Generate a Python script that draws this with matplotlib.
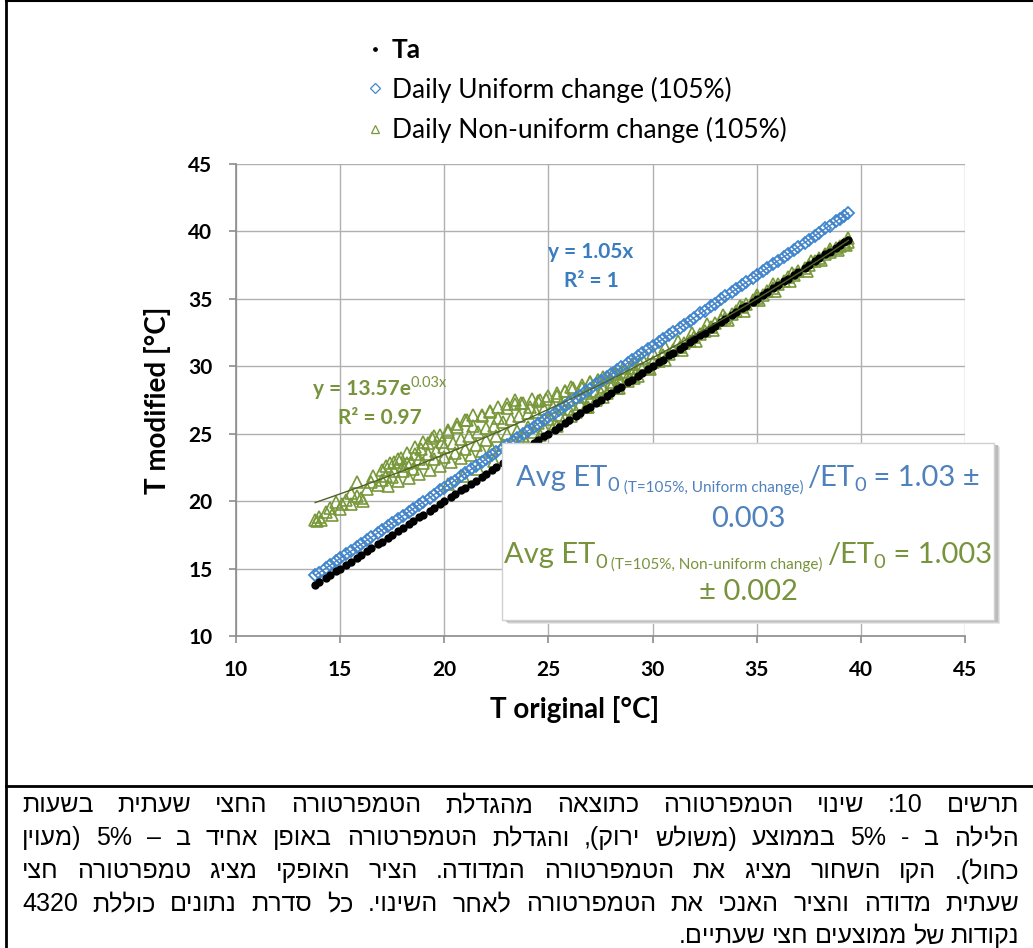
import re
import numpy as np
import matplotlib
matplotlib.use('Agg')
import matplotlib.pyplot as plt
from matplotlib.patches import Rectangle
from matplotlib.lines import Line2D

plt.rcParams['font.family'] = ['Lato', 'DejaVu Sans']

W, H = 1033, 948

# ---- data ----
t_orig = [13.8, 14.0, 14.3, 14.5, 14.8, 15.0, 15.3, 15.5, 15.8, 16.0, 16.3, 16.5, 16.8, 17.0,
          17.3, 17.5, 17.8, 18.0, 18.3, 18.5, 18.8, 19.0, 19.3, 19.5, 19.8, 20.0, 20.3, 20.5,
          20.8, 21.0, 21.3, 21.5, 21.8, 22.0, 22.3, 22.5, 22.8, 23.0, 23.3, 23.5, 23.8, 24.0,
          24.3, 24.5, 24.8, 25.0, 25.3, 25.5, 25.8, 26.0, 26.3, 26.5, 26.8, 27.0, 27.3, 27.5,
          27.8, 28.0, 28.3, 28.5, 28.8, 29.0, 29.3, 29.5, 29.8, 30.0, 30.3, 30.5, 30.8, 31.0,
          31.3, 31.5, 31.8, 32.0, 32.3, 32.5, 32.8, 33.0, 33.3, 33.5, 33.8, 34.0, 34.3, 34.5,
          34.8, 35.0, 35.3, 35.5, 35.8, 36.0, 36.3, 36.5, 36.8, 37.0, 37.3, 37.5, 37.8, 38.0,
          38.3, 38.5, 38.8, 39.0, 39.2, 39.4]

# Ta is the measured temperature itself
ta = t_orig

uniform = [14.49, 14.70, 15.02, 15.23, 15.54, 15.75, 16.07, 16.28, 16.59, 16.80, 17.12, 17.33,
           17.64, 17.85, 18.17, 18.38, 18.69, 18.90, 19.22, 19.43, 19.74, 19.95, 20.27, 20.48,
           20.79, 21.00, 21.32, 21.53, 21.84, 22.05, 22.37, 22.58, 22.89, 23.10, 23.42, 23.63,
           23.94, 24.15, 24.47, 24.68, 24.99, 25.20, 25.52, 25.73, 26.04, 26.25, 26.57, 26.78,
           27.09, 27.30, 27.62, 27.83, 28.14, 28.35, 28.67, 28.88, 29.19, 29.40, 29.72, 29.93,
           30.24, 30.45, 30.77, 30.98, 31.29, 31.50, 31.82, 32.03, 32.34, 32.55, 32.87, 33.08,
           33.39, 33.60, 33.92, 34.13, 34.44, 34.65, 34.97, 35.18, 35.49, 35.70, 36.02, 36.23,
           36.54, 36.75, 37.07, 37.28, 37.59, 37.80, 38.12, 38.33, 38.64, 38.85, 39.17, 39.38,
           39.69, 39.90, 40.22, 40.43, 40.74, 40.95, 41.16, 41.37]

nonuni_x = t_orig + [
    20.2, 20.9, 21.6, 22.4, 23.1, 23.9, 24.6, 25.4, 26.1, 26.9, 27.6, 28.4, 29.1, 29.9,
    30.6, 31.4, 32.1, 32.9, 33.6, 34.4, 35.1, 35.9, 36.6, 37.4, 38.1, 38.9, 39.3,
    15.8, 15.5, 16.6, 17.2, 17.6, 17.9, 18.2, 18.6, 18.9, 19.2, 19.5, 19.9, 20.2, 20.6,
    21.1, 21.4, 21.8, 22.2, 22.6, 23.0, 23.4, 23.7, 24.1, 24.5, 24.9, 25.4, 25.8, 26.1,
    26.6, 27.0, 27.4, 27.6, 28.1, 28.6, 29.0, 29.5, 30.0, 30.6, 31.2, 31.9, 32.6, 33.4,
    34.2, 35.0, 35.8, 36.7, 37.6, 38.5, 39.4,
    13.9, 14.1, 14.6, 15.1, 16.1,
    17.0, 17.4, 17.8, 18.2, 18.6, 19.0, 19.4, 19.8, 20.2, 20.6, 21.0, 21.4, 21.8, 22.2,
    22.6, 23.0, 23.4, 23.8, 24.2, 24.6, 25.0, 25.4, 25.8, 26.2, 26.6, 27.0, 27.4, 27.8,
    28.2, 28.6, 29.0, 29.4,
    17.2, 17.6, 18.0, 18.4, 18.8, 19.2, 19.6, 20.0, 20.4, 20.8, 21.2, 21.6, 22.0, 22.4,
    22.8, 23.2, 23.6, 24.0, 24.4, 24.8, 25.2, 25.6, 26.0, 26.4, 26.8, 27.2, 27.6, 28.0,
    28.4, 28.8, 29.2]
nonuni_y = [
    18.6, 18.8, 19.2, 19.5, 19.9, 19.4, 20.1, 19.8, 20.4, 20.2, 20.9, 21.4, 21.2, 21.6,
    21.1, 21.8, 21.5, 22.2, 21.7, 22.4, 22.0, 22.8, 22.3, 23.1, 22.6, 23.3, 22.9, 23.6,
    23.2, 23.9, 23.4, 24.2, 23.7, 24.5, 23.9, 24.8, 24.2, 25.0, 24.5, 25.2, 24.8, 25.5,
    25.1, 25.8, 25.4, 26.1, 25.7, 26.4, 26.2, 26.8, 26.6, 27.2, 27.0, 27.6, 27.5, 28.0,
    28.0, 28.5, 28.4, 28.9, 28.9, 29.4, 29.3, 29.8, 29.9, 30.3, 30.4, 30.8, 30.9, 31.2,
    31.4, 31.7, 31.9, 32.2, 32.4, 32.6, 32.9, 33.2, 33.4, 33.6, 33.9, 34.1, 34.4, 34.6,
    34.9, 35.1, 35.3, 35.6, 35.8, 36.1, 36.3, 36.6, 36.8, 37.1, 37.3, 37.5, 37.8, 38.0,
    38.3, 38.5, 38.8, 38.9, 39.1, 39.2,
    21.3, 21.9, 22.4, 23.0, 23.5, 24.3, 24.9, 25.6, 26.3, 27.0, 27.7, 28.4, 29.1, 29.8,
    30.5, 31.2, 31.9, 32.7, 33.4, 34.1, 34.9, 35.6, 36.3, 37.1, 37.9, 38.6, 39.0,
    21.4, 20.6, 21.9, 22.6, 22.9, 23.2, 22.8, 23.5, 23.9, 24.3, 24.8, 24.4, 25.1, 25.5,
    26.0, 25.6, 26.3, 26.6, 26.2, 26.9, 27.2, 27.3, 27.0, 27.4, 27.6, 27.8, 28.2, 28.5,
    28.4, 28.8, 29.0, 29.2, 29.5, 29.9, 30.2, 30.6, 31.0, 31.4, 31.9, 32.5, 33.1, 33.8,
    34.5, 35.3, 36.1, 36.9, 37.8, 38.7, 39.5,
    18.5, 18.6, 19.0, 19.8, 20.0,
    22.3, 22.8, 23.1, 23.6, 24.0, 24.4, 24.7, 24.9, 25.3, 25.7, 26.0, 26.4, 26.4, 26.7,
    27.0, 27.2, 27.5, 27.3, 27.6, 27.5, 27.8, 28.0, 28.2, 28.4, 28.6, 28.8, 29.0, 29.2,
    29.4, 29.6, 29.9, 30.2,
    21.9, 22.2, 22.6, 22.9, 23.1, 23.5, 23.7, 24.0, 24.3, 24.6, 24.8, 25.1, 25.4, 25.6,
    25.9, 26.1, 26.3, 26.5, 26.6, 26.8, 27.0, 27.2, 27.5, 27.7, 28.0, 28.2, 28.5, 28.8,
    29.0, 29.3, 29.6]

ticks = [10, 15, 20, 25, 30, 35, 40, 45]
labels = ['Ta', 'Daily Uniform change (105%)', 'Daily Non-uniform change (105%)']

caption = [
    'תרשים 10: שינוי הטמפרטורה כתוצאה מהגדלת הטמפרטורה החצי שעתית בשעות',
    'הלילה ב - 5% בממוצע (משולש ירוק), והגדלת הטמפרטורה באופן אחיד ב – 5% (מעוין',
    'כחול). הקו השחור מציג את הטמפרטורה המדודה. הציר האופקי מציג טמפרטורה חצי',
    'שעתית מדודה והציר האנכי את הטמפרטורה לאחר השינוי. כל סדרת נתונים כוללת 4320',
    'נקודות של ממוצעים חצי שעתיים.',
]

BLUE = '#3F86D0'
GREEN = '#78983A'
BLUE_TXT = '#4F81BD'
GREEN_TXT = '#77933C'


def fx(px):
    return px / W


def fy(py):
    return 1 - py / H


def to_visual(s):
    # simple right-to-left ordering for the Hebrew caption
    r = s[::-1]
    r = re.sub(r'%?[0-9]+', lambda m: m.group(0)[::-1], r)
    return r.translate(str.maketrans('()', ')('))


fig = plt.figure(figsize=(W / 100, H / 100), dpi=100)
ax = fig.add_axes([fx(236), fy(636), fx(965) - fx(236), fy(164) - fy(636)])

ax.plot(nonuni_x, nonuni_y, '^', ms=8.5, mfc='none', mec=GREEN, mew=1.2, label=labels[2], zorder=3)
ax.plot(t_orig, uniform, 'D', ms=6, mfc='none', mec=BLUE, mew=1.3, label=labels[1], zorder=4)
ax.plot(t_orig, ta, 'o', ms=6, color='black', mew=0, label=labels[0], zorder=5)

# trend lines fitted from the series
xs = np.array(t_orig)
k = np.sum(xs * np.array(uniform)) / np.sum(xs * xs)
ax.plot(xs, k * xs, color='#4F81BD', lw=1, zorder=6)
b, lna = np.polyfit(np.array(nonuni_x), np.log(np.array(nonuni_y)), 1)
xe = np.linspace(min(nonuni_x), max(nonuni_x), 100)
ax.plot(xe, np.exp(lna) * np.exp(b * xe), color='#4F6228', lw=1, zorder=6)

ax.set_xlim(10, 45)
ax.set_ylim(10, 45)
ax.set_xticks(ticks)
ax.set_yticks(ticks)
ax.grid(True, color='#B0B0B0', lw=1)
ax.set_axisbelow(True)
for s in ['top', 'right']:
    ax.spines[s].set_visible(False)
for s in ['left', 'bottom']:
    ax.spines[s].set_color('#8C8C8C')
    ax.spines[s].set_linewidth(1.2)
ax.tick_params(length=5, color='#8C8C8C', width=1.2, labelsize=15, pad=12)
for t in ax.get_xticklabels() + ax.get_yticklabels():
    t.set_fontweight('bold')

ax.set_xlabel('T original [°C]', fontsize=20, fontweight='bold', labelpad=12, x=0.465)
ax.set_ylabel('T modified [°C]', fontsize=20, fontweight='bold', labelpad=12)

# legend above the plot
h = ax.get_legend_handles_labels()[0]
leg = ax.legend([h[2], h[1], h[0]], labels, loc='upper left',
                bbox_to_anchor=(fx(367), fy(38)), bbox_transform=fig.transFigure,
                frameon=False, fontsize=19, handlelength=0.6, handletextpad=0.35,
                labelspacing=0.55, borderpad=0, borderaxespad=0)
sizes = [2.5, 5, 6]
for lh, ms in zip(leg.legend_handles, sizes):
    lh.set_markersize(ms)
    lh.set_markeredgewidth(0.9)
leg.get_texts()[0].set_fontweight('bold')

fig.canvas.draw()
rend = fig.canvas.get_renderer()


def pieces(items, cx, base_py, z=11):
    # items: (text, size, dy_px, color, weight); centred at cx pixels
    objs = []
    for txt, size, dy, col, wt in items:
        t = fig.text(0, 0, txt, fontsize=size, color=col, fontweight=wt, va='baseline',
                     ha='left', zorder=z)
        objs.append((t, dy))
    widths = [t.get_window_extent(rend).width for t, _ in objs]
    x = cx - sum(widths) / 2
    for (t, dy), w in zip(objs, widths):
        t.set_position((fx(x), fy(base_py + dy)))
        x += w


# trend equations
fig.text(fx(591), fy(252), 'y = 1.05x', fontsize=15, fontweight='bold', color='#3A7CC0',
         ha='center', va='center')
fig.text(fx(591), fy(281), 'R² = 1', fontsize=15, fontweight='bold', color='#3A7CC0',
         ha='center', va='center')
pieces([('y = 13.57e', 15, 0, GREEN_TXT, 'bold'), ('0.03x', 10.5, -8, GREEN_TXT, 'normal')],
       380, 395)
fig.text(fx(380), fy(418), 'R² = 0.97', fontsize=15, fontweight='bold', color=GREEN_TXT,
         ha='center', va='center')

# result box with soft shadow
bx0, by0, bx1, by1 = 504, 443, 996, 620
for i, c in enumerate(['#E6E6E6', '#D2D2D2', '#BBBBBB']):
    o = 4 - i
    fig.patches.append(Rectangle((fx(bx0 + o), fy(by1 + o)), fx(bx1 - bx0), fy(0) - fy(by1 - by0),
                                 transform=fig.transFigure, facecolor=c, edgecolor='none',
                                 zorder=9))
fig.patches.append(Rectangle((fx(bx0 - 2), fy(by1)), fx(bx1 - bx0), fy(0) - fy(by1 - by0),
                             transform=fig.transFigure, facecolor='white',
                             edgecolor='#D0D0D0', lw=1, zorder=10))

cx = (bx0 + bx1) / 2 - 2
pieces([('Avg ET', 21, 0, BLUE_TXT, 'normal'), ('0', 14.5, 5, BLUE_TXT, 'normal'),
        (' (T=105%, Uniform change) ', 11, 6, BLUE_TXT, 'normal'),
        ('/ET', 21, 0, BLUE_TXT, 'normal'), ('0', 14.5, 5, BLUE_TXT, 'normal'),
        (' = 1.03 ±', 21, 0, BLUE_TXT, 'normal')], cx, 486)
pieces([('0.003', 21, 0, BLUE_TXT, 'normal')], cx, 527)
pieces([('Avg ET', 21, 0, GREEN_TXT, 'normal'), ('0', 14.5, 5, GREEN_TXT, 'normal'),
        (' (T=105%, Non-uniform change) ', 11, 6, GREEN_TXT, 'normal'),
        ('/ET', 21, 0, GREEN_TXT, 'normal'), ('0', 14.5, 5, GREEN_TXT, 'normal'),
        (' = 1.003', 21, 0, GREEN_TXT, 'normal')], cx, 563)
pieces([('± 0.002', 21, 0, GREEN_TXT, 'normal')], cx, 600)

# table frame lines and caption
fig.add_artist(Line2D([fx(6), fx(6)], [0, 1], color='black', lw=2))
fig.add_artist(Line2D([fx(6), 1], [fy(786), fy(786)], color='black', lw=2))
fig.add_artist(Line2D([fx(6), 1], [fy(1), fy(1)], color='black', lw=1.5))

cap_font = ['Liberation Sans', 'DejaVu Sans']
left, right = 22, 1019
line_y = [805, 838, 871, 904, 936]
for i, line in enumerate(caption):
    words = to_visual(line).split(' ')
    objs = [fig.text(0, fy(line_y[i]), w, fontsize=18, family=cap_font, va='center', ha='left')
            for w in words]
    ws = [t.get_window_extent(rend).width for t in objs]
    if i < len(caption) - 1:
        gap = (right - left - sum(ws)) / (len(words) - 1)
        x = left
    else:
        gap = 6
        x = right - sum(ws) - gap * (len(words) - 1)
    for t, w in zip(objs, ws):
        t.set_x(fx(x))
        x += w + gap

fig.savefig('out.png', dpi=100)
